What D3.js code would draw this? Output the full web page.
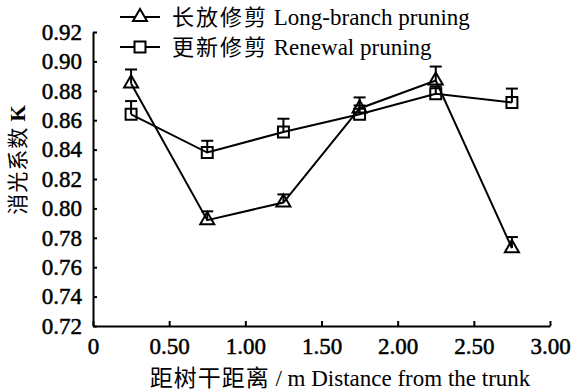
<!DOCTYPE html>
<html>
<head>
<meta charset="utf-8">
<script src="https://cdn.jsdelivr.net/npm/d3@7"></script>
<style>
  body { margin: 0; background: #fff; }
  svg text { font-family: "Liberation Serif", "Noto Sans CJK SC", serif; fill: #000; }
</style>
</head>
<body>
<div id="chart"></div>
<script>
// distances from the trunk (m)
var distances = [0.25, 0.75, 1.25, 1.75, 2.25, 2.75];
// extinction coefficient K
var longBranch = [0.885, 0.792, 0.804, 0.868, 0.887, 0.773];
var longBranchErr = [0.0095, 0.006, 0.0055, 0.0075, 0.0095, 0.0075];
var renewal = [0.864, 0.838, 0.852, 0.864, 0.878, 0.872];
var renewalErr = [0.009, 0.008, 0.009, 0.006, 0.005, 0.0095];
var xTicks = [0, 0.5, 1, 1.5, 2, 2.5, 3];
var yTicks = [0.72, 0.74, 0.76, 0.78, 0.80, 0.82, 0.84, 0.86, 0.88, 0.90, 0.92];
var seriesCn = ["长放修剪", "更新修剪"];
var seriesEn = ["Long-branch pruning", "Renewal pruning"];

var svg = d3.select("#chart").append("svg")
    .attr("width", 576)
    .attr("height", 391);

var box = {xmin: 93, xmax: 550, ymin: 32, ymax: 326};

var x = d3.scaleLinear().domain([0, 3]).range([box.xmin, box.xmax]);
var y = d3.scaleLinear().domain([0.72, 0.92]).range([box.ymax, box.ymin]);

// axes
var xAxis = d3.axisBottom(x)
    .tickValues(xTicks)
    .tickSizeInner(-5)
    .tickSizeOuter(0)
    .tickPadding(12)
    .tickFormat(function(d) { return d === 0 ? "0" : d.toFixed(2); });
var gx = svg.append("g")
    .attr("transform", "translate(0," + box.ymax + ")")
    .call(xAxis);

var yAxis = d3.axisLeft(y)
    .tickValues(yTicks)
    .tickSizeInner(-4)
    .tickSizeOuter(0)
    .tickPadding(11)
    .tickFormat(function(d) { return d.toFixed(2); });
var gy = svg.append("g")
    .attr("transform", "translate(" + box.xmin + ",0)")
    .call(yAxis);

[gx, gy].forEach(function(g) {
    g.select(".domain").attr("stroke", "#000").attr("stroke-width", 2);
    g.selectAll(".tick line").attr("stroke", "#000").attr("stroke-width", 2);
    g.selectAll(".tick text")
        .style("font-family", "'Liberation Serif'")
        .style("font-size", "23px")
        .attr("fill", "#000")
        .attr("stroke", "#000")
        .attr("stroke-width", 0.5);
});
gx.selectAll(".tick text").attr("dy", "0.71em");

// axis titles
var xt = svg.append("text")
    .attr("x", 340)
    .attr("y", 386)
    .attr("text-anchor", "middle")
    .style("font-size", "23px");
xt.append("tspan").style("letter-spacing", "1px").text("距树干距离");
xt.append("tspan").text(" / m  Distance from the trunk");

var yt = svg.append("text")
    .attr("transform", "translate(25,160) rotate(-90)")
    .attr("text-anchor", "middle")
    .style("font-size", "21px");
yt.append("tspan").style("letter-spacing", "1px").text("消光系数");
yt.append("tspan").style("font-weight", "bold").text(" K");

// markers
var triangle = d3.symbol().type(d3.symbolTriangle).size(85);
var square = d3.symbol().type(d3.symbolSquare).size(120);

var series = [
    {cn: seriesCn[0], en: seriesEn[0], values: longBranch, err: longBranchErr, symbol: triangle},
    {cn: seriesCn[1], en: seriesEn[1], values: renewal, err: renewalErr, symbol: square}
];

var line = d3.line()
    .x(function(d) { return x(d[0]); })
    .y(function(d) { return y(d[1]); });

series.forEach(function(s) {
    var pts = distances.map(function(d, i) { return [d, s.values[i], s.err[i]]; });

    svg.append("path")
        .datum(pts)
        .attr("fill", "none")
        .attr("stroke", "#000")
        .attr("stroke-width", 2)
        .attr("d", line);

    // error bars (upper only)
    var eb = svg.append("g").selectAll("g")
        .data(pts)
        .enter().append("g");
    eb.append("line")
        .attr("x1", function(d) { return x(d[0]); })
        .attr("x2", function(d) { return x(d[0]); })
        .attr("y1", function(d) { return y(d[1]); })
        .attr("y2", function(d) { return y(d[1] + d[2]); })
        .attr("stroke", "#000")
        .attr("stroke-width", 2);
    eb.append("line")
        .attr("x1", function(d) { return x(d[0]) - 6; })
        .attr("x2", function(d) { return x(d[0]) + 6; })
        .attr("y1", function(d) { return y(d[1] + d[2]); })
        .attr("y2", function(d) { return y(d[1] + d[2]); })
        .attr("stroke", "#000")
        .attr("stroke-width", 2);

    svg.append("g").selectAll("path")
        .data(pts)
        .enter().append("path")
        .attr("d", s.symbol)
        .attr("transform", function(d) { return "translate(" + x(d[0]) + "," + y(d[1]) + ")"; })
        .attr("fill", "none")
        .attr("stroke", "#000")
        .attr("stroke-width", 2);
});

// legend
var legend = svg.selectAll(".legend")
    .data(series)
    .enter().append("g")
    .attr("class", "legend")
    .attr("transform", function(d, i) { return "translate(120," + (17 + i * 30) + ")"; });
legend.append("line")
    .attr("x1", 0).attr("x2", 40)
    .attr("stroke", "#000").attr("stroke-width", 2);
legend.append("path")
    .attr("d", function(d) { return d.symbol(); })
    .attr("transform", "translate(20,0)")
    .attr("fill", "#fff")
    .attr("stroke", "#000")
    .attr("stroke-width", 2);
var lt = legend.append("text")
    .attr("x", 52)
    .attr("y", 8)
    .style("font-size", "22px");
lt.append("tspan").style("letter-spacing", "2px").text(function(d) { return d.cn; });
lt.append("tspan").style("font-size", "23px").text(function(d) { return " " + d.en; });
</script>
</body>
</html>
